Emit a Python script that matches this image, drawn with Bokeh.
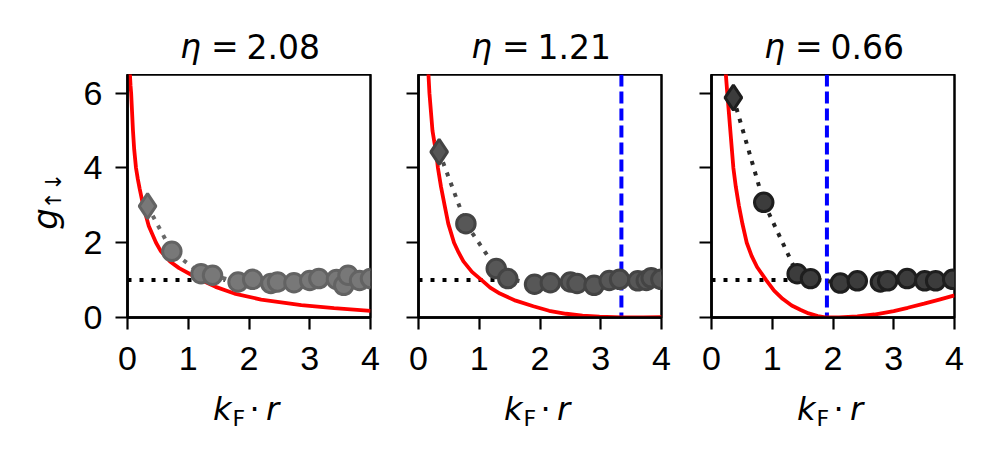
import numpy as np
from bokeh.plotting import figure
from bokeh.models import Range1d, FixedTicker, Label, Span
from bokeh.layouts import row, column
from bokeh.embed import file_html
from bokeh.resources import INLINE

# ---------------- data ----------------
X_TICKS = [0, 1, 2, 3, 4]
Y_TICKS = [0, 2, 4, 6]
ETA_TEXT = ["2.08", "1.21", "0.66"]

HLINE_X = [0.0, 1.6]
HLINE_Y = [1.0, 1.0]

# panel 1 (eta = 2.08)
p1_diamond_x = [0.33]
p1_diamond_y = [2.98]
p1_circle_x = [0.73, 1.21, 1.40, 1.82, 2.06, 2.36, 2.47, 2.74, 3.00, 3.15, 3.44, 3.56, 3.63, 3.82, 4.00]
p1_circle_y = [1.77, 1.17, 1.13, 0.95, 1.02, 0.91, 0.95, 0.93, 0.99, 1.04, 1.02, 0.86, 1.13, 0.99, 1.04]
p1_red_x = [0.03, 0.035, 0.04, 0.05, 0.06, 0.075, 0.09, 0.11, 0.14, 0.17, 0.20, 0.26, 0.35, 0.47, 0.55,
            0.70, 0.85, 1.02, 1.21, 1.45, 1.76, 2.20, 2.86, 3.40, 4.00]
p1_red_y = [7.50, 7.00, 6.50, 6.20, 6.00, 5.50, 5.00, 4.50, 4.00, 3.70, 3.45, 2.98, 2.45, 2.00, 1.77,
            1.50, 1.32, 1.17, 1.00, 0.82, 0.64, 0.48, 0.33, 0.25, 0.18]
p1_vline = None

# panel 2 (eta = 1.21)
p2_diamond_x = [0.34]
p2_diamond_y = [4.43]
p2_circle_x = [0.78, 1.28, 1.47, 1.91, 2.17, 2.50, 2.61, 2.89, 3.14, 3.31, 3.61, 3.75, 3.83, 3.99]
p2_circle_y = [2.51, 1.31, 1.04, 0.89, 0.93, 0.95, 0.91, 0.86, 0.99, 1.02, 0.98, 0.99, 1.06, 1.02]
p2_red_x = [0.15, 0.164, 0.18, 0.205, 0.23, 0.26, 0.29, 0.32, 0.37, 0.43, 0.49, 0.585, 0.66, 0.74, 0.88,
            1.04, 1.18, 1.34, 1.60, 1.89, 2.15, 2.43, 2.70, 2.98, 3.34, 3.70, 4.00]
p2_red_y = [7.00, 6.50, 6.00, 5.50, 5.00, 4.70, 4.43, 4.00, 3.50, 3.00, 2.51, 2.00, 1.74, 1.50, 1.22,
            1.00, 0.80, 0.64, 0.45, 0.30, 0.18, 0.10, 0.05, 0.02, 0.00, 0.00, 0.01]
p2_vline = 3.34

# panel 3 (eta = 0.66)
p3_diamond_x = [0.36]
p3_diamond_y = [5.88]
p3_circle_x = [0.86, 1.41, 1.63, 2.12, 2.40, 2.78, 2.90, 3.22, 3.51, 3.69, 3.97]
p3_circle_y = [3.08, 1.17, 1.04, 0.92, 0.98, 0.95, 0.98, 1.04, 0.98, 0.98, 1.02]
p3_red_x = [0.225, 0.236, 0.26, 0.285, 0.31, 0.335, 0.36, 0.40, 0.45, 0.51, 0.58, 0.66, 0.75, 0.90, 1.03,
            1.17, 1.32, 1.47, 1.60, 1.75, 1.90, 2.10, 2.40, 2.68, 3.00, 3.23, 3.50, 3.75, 4.00]
p3_red_y = [7.00, 6.50, 6.00, 5.50, 5.00, 4.50, 4.00, 3.50, 3.00, 2.50, 2.00, 1.65, 1.35, 1.00, 0.72,
            0.50, 0.32, 0.20, 0.11, 0.04, 0.00, 0.00, 0.03, 0.08, 0.17, 0.26, 0.37, 0.48, 0.59]
p3_vline = 1.90

PANELS = [
    dict(dx=p1_diamond_x, dy=p1_diamond_y, cx=p1_circle_x, cy=p1_circle_y,
         rx=p1_red_x, ry=p1_red_y, vline=p1_vline, eta=ETA_TEXT[0],
         fill="#787878", edge="#636363", dot="#686868"),
    dict(dx=p2_diamond_x, dy=p2_diamond_y, cx=p2_circle_x, cy=p2_circle_y,
         rx=p2_red_x, ry=p2_red_y, vline=p2_vline, eta=ETA_TEXT[1],
         fill="#575757", edge="#444444", dot="#4a4a4a"),
    dict(dx=p3_diamond_x, dy=p3_diamond_y, cx=p3_circle_x, cy=p3_circle_y,
         rx=p3_red_x, ry=p3_red_y, vline=p3_vline, eta=ETA_TEXT[2],
         fill="#3c3c3c", edge="#1e1e1e", dot="#222222"),
]

# ---------------- layout constants (pixels) ----------------
FONT = "Liberation Sans"
MATH = "DejaVu Sans"
TOP_H = 74          # height of title strip
FRAME = 243         # frame width / height
PANEL_BOTTOM = 72   # room for tick labels
YLAB_W = 80         # width of y-label strip
BORDERS = [(47, 24), (24, 25), (25, 20)]
BOTTOM_H = 60

frame_lefts = []
xpos = YLAB_W
for bl, br in BORDERS:
    frame_lefts.append(xpos + bl)
    xpos += bl + FRAME + br
TOTAL_W = xpos
centers = [fl + FRAME / 2 for fl in frame_lefts]
PANEL_H = FRAME + PANEL_BOTTOM
TOTAL_H = TOP_H + PANEL_H + BOTTOM_H


def blank(x0, width, y0, height):
    f = figure(width=width, height=height, x_range=Range1d(x0, x0 + width),
               y_range=Range1d(y0 + height, y0), output_backend="svg",
               toolbar_location=None, x_axis_location=None, y_axis_location=None,
               min_border=0)
    f.title.visible = False
    f.grid.visible = False
    f.outline_line_color = None
    f.background_fill_color = "white"
    f.border_fill_color = "white"
    return f


def lab(f, x, y, text, size, font=MATH, italic=False, align="left", angle=0.0):
    f.add_layout(Label(x=x, y=y, text=text, angle=angle, text_font=font,
                       text_font_style="italic" if italic else "normal",
                       text_font_size=size, text_align=align, text_baseline="middle",
                       text_color="black"))


# ---------------- title strip ----------------
top = blank(YLAB_W, TOTAL_W - YLAB_W, 0, TOP_H)
for c, d in zip(centers, PANELS):
    lab(top, c - 69, 46, "η", "33px", italic=True)
    lab(top, c - 38, 46, "=", "33px")
    lab(top, c - 2.5, 46, d["eta"], "33px")

# ---------------- y-label strip (full height) ----------------
left = blank(0, YLAB_W, 0, TOTAL_H)
lab(left, 44, 218.5, "g", "34px", italic=True, align="center", angle=np.pi / 2)
lab(left, 52.5, 190.5, "↑↓", "22px", align="center", angle=np.pi / 2)

# ---------------- panels ----------------
figs = []
for i, d in enumerate(PANELS):
    bl, br = BORDERS[i]
    p = figure(frame_width=FRAME, frame_height=FRAME,
               x_range=Range1d(0, 4), y_range=Range1d(0, 6.5),
               output_backend="svg", toolbar_location=None,
               min_border_left=bl, min_border_right=br,
               min_border_top=0, min_border_bottom=PANEL_BOTTOM)
    p.title.visible = False
    p.grid.visible = False
    p.outline_line_color = "black"
    p.outline_line_width = 2.5
    p.outline_line_alpha = 1.0
    p.background_fill_color = "white"
    p.border_fill_color = "white"

    for ax in (p.xaxis[0], p.yaxis[0]):
        ax.axis_line_width = 2.5
        ax.axis_line_color = "black"
        ax.major_tick_line_width = 2.2
        ax.major_tick_line_color = "black"
        ax.major_tick_out = 12
        ax.major_tick_in = 0
        ax.minor_tick_line_color = None
        ax.major_label_text_font = FONT
        ax.major_label_text_font_size = "34px"
        ax.major_label_text_color = "black"
    p.xaxis.ticker = FixedTicker(ticks=X_TICKS)
    p.yaxis.ticker = FixedTicker(ticks=Y_TICKS)
    p.xaxis.major_label_standoff = 17
    p.yaxis.major_label_standoff = 13
    if i > 0:
        p.yaxis.major_label_text_font_size = "0px"
        p.yaxis.major_label_text_color = None
        p.yaxis.major_label_standoff = 0

    if d["vline"] is not None:
        p.add_layout(Span(location=d["vline"], dimension="height", line_color="#0000ff",
                          line_width=4, line_dash="12 5", level="underlay"))
    p.line(HLINE_X, HLINE_Y, line_color="black", line_width=4, line_dash="4 8")
    p.line(d["rx"], d["ry"], line_color="#ff0000", line_width=3.8)
    p.line(d["dx"] + d["cx"], d["dy"] + d["cy"], line_color=d["dot"], line_width=4, line_dash="4 7")
    p.scatter(d["cx"], d["cy"], marker="circle", size=18.5, fill_color=d["fill"],
              line_color=d["edge"], line_width=3)
    p.scatter(d["dx"], d["dy"], marker="diamond", size=25, fill_color=d["fill"],
              line_color=d["edge"], line_width=3)
    figs.append(p)

# ---------------- x-label strip ----------------
bottom = blank(YLAB_W, TOTAL_W - YLAB_W, TOP_H + PANEL_H, BOTTOM_H)
for c in centers:
    lab(bottom, c - 36, 408, "k", "32px", italic=True)
    lab(bottom, c - 16.5, 417.5, "F", "22px")
    lab(bottom, c + 5.5, 408, "·", "32px", align="center")
    lab(bottom, c + 17, 408, "r", "32px", italic=True)

layout = row(left, column(top, row(*figs), bottom))
open("out.html", "w").write(file_html(layout, INLINE))
